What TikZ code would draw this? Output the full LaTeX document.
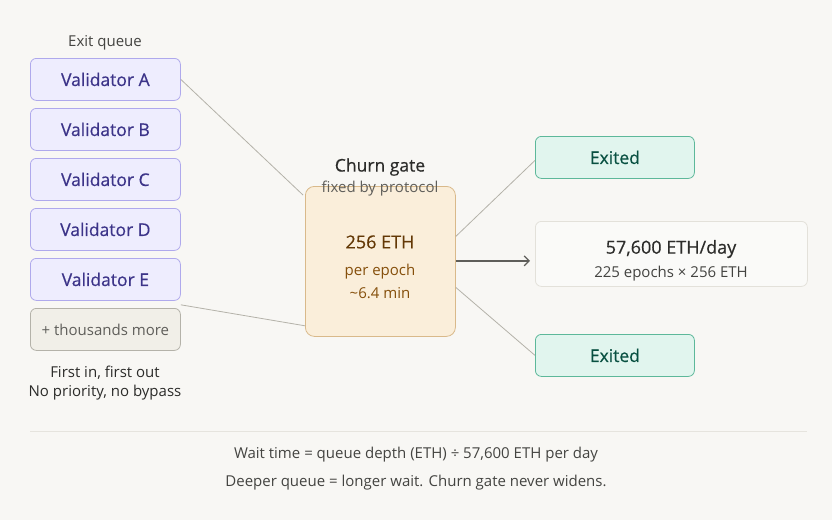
\documentclass[tikz,border=0pt]{standalone}
\usepackage{fontspec}
\setmainfont{Open Sans}
\newfontfamily\medfont[FakeBold=0.5]{Open Sans}
\usetikzlibrary{arrows.meta,calc}
\definecolor{bg}{HTML}{F8F7F4}
\definecolor{vfill}{HTML}{EEEDFE}
\definecolor{vdraw}{HTML}{AFA9EC}
\definecolor{vtext}{HTML}{3C3489}
\definecolor{gfill}{HTML}{F1EFE8}
\definecolor{gdraw}{HTML}{B4B2A9}
\definecolor{gtext}{HTML}{5F5E5A}
\definecolor{cfill}{HTML}{FAEEDA}
\definecolor{cdraw}{HTML}{D9B98A}
\definecolor{ctext}{HTML}{633806}
\definecolor{ctext2}{HTML}{854F0B}
\definecolor{efill}{HTML}{E1F5EE}
\definecolor{edraw}{HTML}{5DB89A}
\definecolor{etext}{HTML}{085041}
\definecolor{rfill}{HTML}{FAFAF8}
\definecolor{rdraw}{HTML}{E3E1DA}
\definecolor{dark}{HTML}{2C2C2A}
\definecolor{mid}{HTML}{444441}
\definecolor{conn}{HTML}{B4B2A9}
\definecolor{sep}{HTML}{E6E4DE}
\begin{document}
\begin{tikzpicture}[x=1pt,y=-1pt,
  box/.style={rounded corners=6pt, line width=0.8pt, minimum width=150pt, minimum height=42pt, inner sep=0pt, anchor=north west},
  vbox/.style={box, fill=vfill, draw=vdraw, text=vtext, font=\medfont\fontsize{17.5}{21}\selectfont},
  ebox/.style={box, minimum width=159pt, fill=efill, draw=edraw, text=etext, font=\medfont\fontsize{17.5}{21}\selectfont},
  lbl/.style={inner sep=0pt, text=mid, font=\fontsize{15}{18}\selectfont},
  link/.style={draw=conn, line width=0.8pt}]
\fill[bg] (0,0) rectangle (832,520);
\useasboundingbox (0,0) rectangle (832,520);

\node[lbl] (title) at (105,43) {Exit queue};
\node[vbox] (va) at (30,58) {Validator A};
\node[vbox] (vb) at (30,108) {Validator B};
\node[vbox] (vc) at (30,158) {Validator C};
\node[vbox] (vd) at (30,208) {Validator D};
\node[vbox] (ve) at (30,258) {Validator E};
\node[box, fill=gfill, draw=gdraw, text=gtext, font=\fontsize{15}{18}\selectfont] (more) at (30,308) {+ thousands more};
\node[lbl, text=dark] (fifo) at (105,373) {First in, first out};
\node[lbl, text=dark] (noprio) at (105,393) {No priority, no bypass};

\node[box, minimum width=150pt, minimum height=150pt, fill=cfill, draw=cdraw, rounded corners=9pt] (gate) at (305,186) {};
\node[inner sep=0pt, text=dark, font=\medfont\fontsize{17.5}{21}\selectfont] (gtitle) at (380,167) {Churn gate};
\node[lbl, text=gtext] (gsub) at (380,189) {fixed by protocol};
\node[inner sep=0pt, text=ctext, font=\medfont\fontsize{18}{21}\selectfont] (g1) at (380,242) {256 ETH};
\node[inner sep=0pt, text=ctext2, font=\fontsize{15}{18}\selectfont] (g2) at (380,272) {per epoch};
\node[inner sep=0pt, text=ctext2, font=\fontsize{15}{18}\selectfont] (g3) at (380,293) {\textasciitilde 6.4 min};

\node[ebox] (ex1) at (535,136) {Exited};
\node[ebox] (ex2) at (535,334) {Exited};
\node[box, minimum width=272pt, minimum height=65pt, fill=rfill, draw=rdraw] (rate) at (535,221) {};
\node[inner sep=0pt, text=dark, font=\medfont\fontsize{18}{21}\selectfont] (r1) at (671,249) {57,600 ETH/day};
\node[lbl] (r2) at (671,274) {225 epochs × 256 ETH};

\coordinate (gA) at ($(gate.north west)+(-2,9)$);
\coordinate (gE) at ($(gate.south west)+(0,-11)$);
\coordinate (vE) at ($(ve.south east)+(0,4)$);
\coordinate (gT) at ($(gate.east)+(0,-25)$);
\coordinate (gB) at ($(gate.east)+(0,26)$);
\coordinate (gM) at ($(gate.east)+(0,0)$);
\coordinate (eT) at ($(ex1.west)+(0,3)$);
\coordinate (eB) at ($(ex2.west)+(0,0)$);
\coordinate (rM) at ($(rate.west)+(-5,7)$);
\draw[link] (va.east) -- (gA);
\draw[link] (vE) -- (gE);
\draw[link] (gT) -- (eT);
\draw[link] (gB) -- (eB);
\draw[draw=gtext, line width=1.2pt, -{Straight Barb[length=5pt,width=10pt]}] (gM |- rM) -- (rM);

\draw[draw=sep, line width=1pt] (30,431) coordinate (s1) -- (807,431) coordinate (s2);
\node[lbl] (f1) at (416,455) {Wait time = queue depth (ETH) ÷ 57,600 ETH per day};
\node[lbl] (f2) at (416,483) {Deeper queue = longer wait. Churn gate never widens.};
\end{tikzpicture}
\end{document}
